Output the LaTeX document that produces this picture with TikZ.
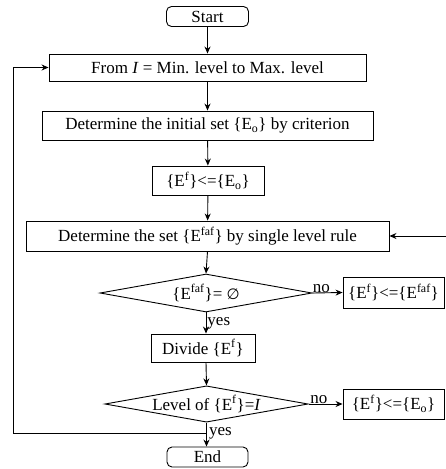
\documentclass[tikz,border=0pt]{standalone}
\usepackage{fontspec}
\setmainfont{Liberation Serif}
\newfontfamily\symfont{DejaVu Sans}
\usetikzlibrary{arrows.meta,shapes.geometric}
\tikzset{
  base/.style={draw, line width=0.9pt, inner sep=0pt, font=\fontsize{17}{19}\selectfont},
  proc/.style={base, rectangle, minimum width=#1},
  term/.style={base, rectangle, rounded corners=5pt, minimum width=#1, minimum height=20pt},
  cond/.style={base, diamond, aspect=5.6, inner sep=0pt, minimum width=#1},
  lbl/.style={font=\fontsize{17}{19}\selectfont, inner sep=1pt},
  arr/.style={line width=0.9pt, -{Stealth[length=7pt,width=6pt]}},
  ln/.style={line width=0.9pt}
}
\newcommand{\Ef}{\{E\textsuperscript{f}\}}
\newcommand{\Eo}{\{E\textsubscript{o}\}}
\newcommand{\Efaf}{\{E\textsuperscript{faf}\}}
\begin{document}
\begin{tikzpicture}[x=1pt,y=-1pt]
  \useasboundingbox (0,0) rectangle (446,469);

  % main column
  \node[term=82pt] (start) at (207.5,16.5) {Start};
  \node[proc=317pt, minimum height=27pt] (from) at (207.5,67.5) {From \textit{I} = Min. level to Max. level};
  \node[proc=331pt, minimum height=29pt] (init) at (207.5,125.5) {Determine the initial set \Eo{} by criterion};
  \node[proc=112pt, minimum height=29pt] (ef) at (208,180.5) {\Ef<=\Eo};
  \node[proc=363pt, minimum height=30pt] (detset) at (207.5,236) {Determine the set \Efaf{} by single level rule};
  \node[cond=212pt, minimum height=38pt] (d1) at (206,293) {\Efaf= {\symfont\fontsize{15}{17}\selectfont ∅}};
  \node[proc=104pt, minimum height=28pt] (divide) at (203,348) {Divide \Ef};
  \node[cond=203pt, minimum height=36pt] (d2) at (206.5,404) {Level of \Ef=\textit{I}};
  \node[term=81pt] (end) at (207.5,457) {End};

  % side branches
  \node[proc=101pt, minimum height=31pt] (efaf) at (393.5,292.5) {\Ef<=\Efaf};
  \node[proc=101pt, minimum height=30pt] (eo) at (393.5,404) {\Ef<=\Eo};

  % flow
  \draw[arr] (start) -- (from);
  \draw[arr] (from) -- (init);
  \draw[arr] (init) -- (ef);
  \draw[arr] (ef) -- (detset);
  \draw[arr] (detset.south) -- (d1.north);
  \draw[arr] (d1.south) -- (d1.south |- divide.north) node[lbl, midway, right] {yes};
  \draw[arr] (d1.south |- divide.south) -- (d2.north);
  \draw[arr] (d2.south) -- (d2.south |- end.north);
  \draw[arr] (d1.east) -- (efaf.west) node[lbl, pos=0.3, above=-1pt] {no};
  \draw[arr] (d2.east) -- (eo.west) node[lbl, pos=0.3, above=-1pt] {no};

  % return to the single level rule
  \coordinate (fb) at (446,236);
  \draw[arr] (fb) -- (detset.east);

  % next level loop
  \coordinate (lp) at (206.5,433);
  \coordinate (lc) at (13,433);
  \draw[ln] (lp) -- (lc);
  \draw[arr] (lc) |- (from.west);
  \node[lbl, anchor=west] (yes2) at (208,433) {yes};
\end{tikzpicture}
\end{document}
